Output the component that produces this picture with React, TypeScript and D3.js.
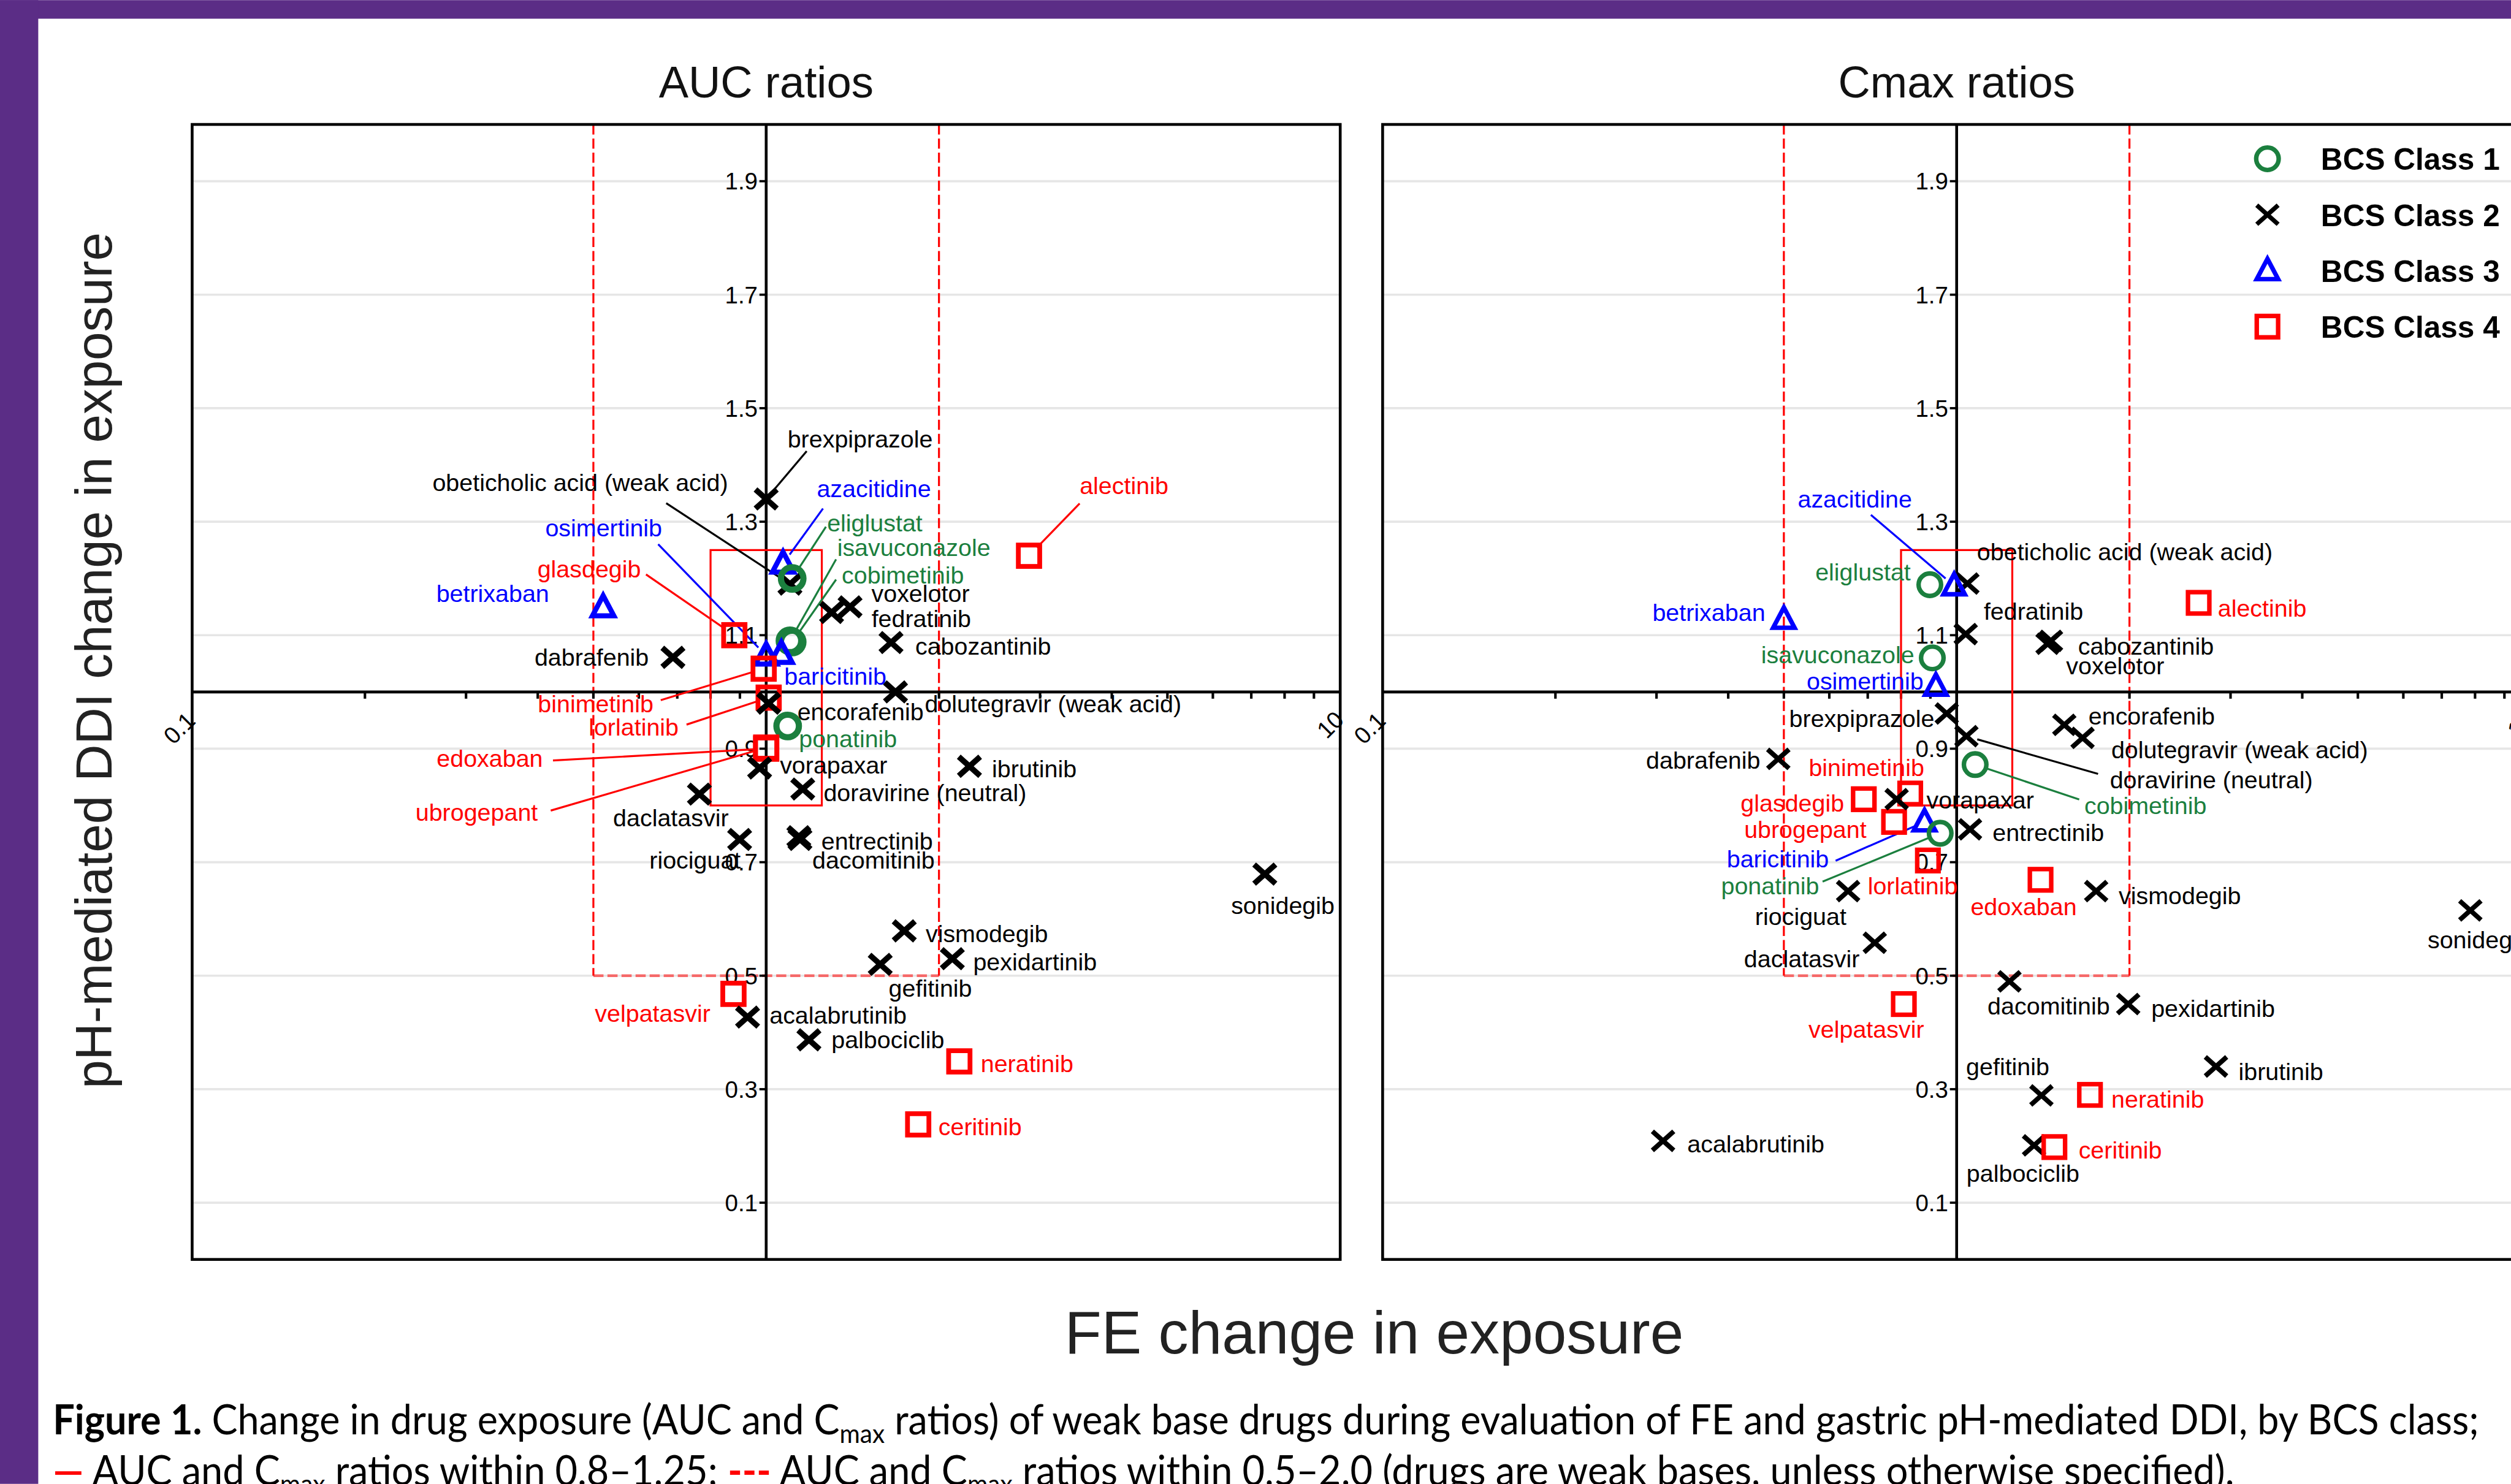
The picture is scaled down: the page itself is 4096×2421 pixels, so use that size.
import * as d3 from 'd3';

// drugs and their BCS class (1..4)
const drugs = [
  'brexpiprazole', 'obeticholic acid (weak acid)', 'azacitidine', 'eliglustat', 'isavuconazole',
  'cobimetinib', 'voxelotor', 'fedratinib', 'cabozantinib', 'dolutegravir (weak acid)',
  'alectinib', 'osimertinib', 'glasdegib', 'betrixaban', 'dabrafenib',
  'baricitinib', 'binimetinib', 'lorlatinib', 'encorafenib', 'ponatinib',
  'edoxaban', 'ubrogepant', 'vorapaxar', 'doravirine (neutral)', 'ibrutinib',
  'daclatasvir', 'riociguat', 'entrectinib', 'dacomitinib', 'sonidegib',
  'vismodegib', 'gefitinib', 'pexidartinib', 'velpatasvir', 'acalabrutinib',
  'palbociclib', 'neratinib', 'ceritinib',
];
const bcsClass = [
  2, 2, 3, 1, 1,
  1, 2, 2, 2, 2,
  4, 3, 4, 3, 2,
  3, 4, 4, 2, 1,
  4, 4, 2, 2, 2,
  2, 2, 2, 2, 2,
  2, 2, 2, 4, 2,
  2, 4, 4,
];

// AUC ratios: FE (x) and pH-mediated DDI (y)
const aucFE = [
  1.0, 1.1, 1.07, 1.11, 1.1,
  1.11, 1.4, 1.3, 1.65, 1.68,
  2.87, 1.0, 0.88, 0.52, 0.688,
  1.063, 0.99, 1.01, 1.01, 1.09,
  1.0, 1.0, 0.974, 1.158, 2.26,
  0.765, 0.899, 1.145, 1.14, 7.39,
  1.74, 1.58, 2.11, 0.877, 0.928,
  1.187, 2.17, 1.84,
];
const aucPH = [
  1.34, 1.19, 1.226, 1.2, 1.09,
  1.088, 1.15, 1.14, 1.087, 1.0,
  1.24, 1.064, 1.1, 1.149, 1.061,
  1.067, 1.041, 0.99, 0.98, 0.94,
  0.9, 0.902, 0.866, 0.829, 0.869,
  0.82, 0.74, 0.74, 0.745, 0.679,
  0.579, 0.52, 0.53, 0.468, 0.427,
  0.387, 0.349, 0.238,
];

// Cmax ratios
const cmaxFE = [
  0.961, 1.044, 0.99, 0.898, 0.907,
  1.077, 1.44, 1.037, 1.46, 1.657,
  2.64, 0.92, 0.689, 0.5, 0.489,
  0.879, 0.83, 0.891, 1.54, 0.936,
  1.4, 0.778, 0.786, 1.04, 2.83,
  0.72, 0.647, 1.055, 1.236, 7.85,
  1.75, 1.405, 1.99, 0.809, 0.308,
  1.364, 1.707, 1.48,
];
const cmaxPH = [
  0.962, 1.191, 1.187, 1.189, 1.06,
  0.872, 1.085, 1.102, 1.09, 0.919,
  1.157, 1.01, 0.811, 1.128, 0.882,
  0.771, 0.821, 0.703, 0.942, 0.751,
  0.669, 0.771, 0.811, 0.922, 0.34,
  0.558, 0.649, 0.758, 0.49, 0.615,
  0.649, 0.289, 0.45, 0.45, 0.209,
  0.201, 0.29, 0.198,
];

const yTicks = [0.1, 0.3, 0.5, 0.7, 0.9, 1.1, 1.3, 1.5, 1.7, 1.9];
const xMinor = [0.2, 0.3, 0.4, 0.5, 0.6, 0.7, 0.8, 0.9, 2, 3, 4, 5, 6, 7, 8, 9];
const legendLabels = ['BCS Class 1', 'BCS Class 2', 'BCS Class 3', 'BCS Class 4'];

// label layout: anchor, dx, dy, optional leader start offset
type Lab = [string, number, number, number?, number?];
const aucLabels: Record<string, Lab> = {
  'brexpiprazole': ['start', 38, -92, 72, -85],
  'obeticholic acid (weak acid)': ['end', -110, -166, -220, -144],
  'azacitidine': ['start', 60, -118, 71, -98],
  'eliglustat': ['start', 62, -84, 60, -92],
  'isavuconazole': ['start', 84, -151, 82, -145],
  'cobimetinib': ['start', 88, -104, 78, -111],
  'voxelotor': ['start', 38, -9],
  'fedratinib': ['start', 71, 26],
  'cabozantinib': ['start', 43, 22],
  'dolutegravir (weak acid)': ['start', 52, 36],
  'alectinib': ['start', 90, -110, 90, -93],
  'osimertinib': ['end', -185, -212, -192, -198],
  'glasdegib': ['end', -166, -103, -157, -108],
  'betrixaban': ['end', -96, -10],
  'dabrafenib': ['end', -43, 15],
  'baricitinib': ['start', 5, 55],
  'binimetinib': ['end', -196, 78, -183, 56],
  'lorlatinib': ['end', -160, 68, -146, 48],
  'encorafenib': ['start', 51, 30],
  'ponatinib': ['start', 20, 38],
  'edoxaban': ['end', -397, 32, -379, 21],
  'ubrogepant': ['end', -406, 130, -383, 112],
  'vorapaxar': ['start', 36, 10],
  'doravirine (neutral)': ['start', 37, 22],
  'ibrutinib': ['start', 40, 19],
  'daclatasvir': ['end', 52, 57],
  'riociguat': ['end', 2, 52],
  'entrectinib': ['start', 38, 18],
  'dacomitinib': ['start', 24, 57],
  'sonidegib': ['middle', 32, 71],
  'vismodegib': ['start', 38, 20],
  'gefitinib': ['start', 15, 57],
  'pexidartinib': ['start', 37, 21],
  'velpatasvir': ['end', -41, 50],
  'acalabrutinib': ['start', 39, 12],
  'palbociclib': ['start', 40, 15],
  'neratinib': ['start', 38, 19],
  'ceritinib': ['start', 36, 19],
};
const cmaxLabels: Record<string, Lab> = {
  'azacitidine': ['end', -75, -139, -148, -126],
  'eliglustat': ['end', -34, -7],
  'obeticholic acid (weak acid)': ['start', 17, -41],
  'fedratinib': ['start', 32, -26],
  'cabozantinib': ['start', 48, 25],
  'voxelotor': ['start', 33, 54],
  'alectinib': ['start', 34, 24],
  'betrixaban': ['end', -33, 3],
  'isavuconazole': ['end', -32, 10],
  'osimertinib': ['end', -22, 6],
  'brexpiprazole': ['end', -22, 24],
  'encorafenib': ['start', 43, -1],
  'dolutegravir (weak acid)': ['start', 51, 36],
  'doravirine (neutral)': ['start', 255, 93, 234, 67],
  'cobimetinib': ['start', 194, 88, 185, 62],
  'dabrafenib': ['end', -32, 17],
  'binimetinib': ['end', 25, -31],
  'vorapaxar': ['start', 53, 17],
  'glasdegib': ['end', -35, 22],
  'ubrogepant': ['end', -49, 28],
  'baricitinib': ['end', -170, 81, -158, 69],
  'ponatinib': ['end', -215, 109, -209, 86],
  'entrectinib': ['start', 40, 21],
  'lorlatinib': ['start', -107, 60],
  'edoxaban': ['middle', -30, 63],
  'vismodegib': ['start', 40, 23],
  'riociguat': ['end', -3, 60],
  'daclatasvir': ['end', -27, 43],
  'dacomitinib': ['start', -39, 59],
  'pexidartinib': ['start', 41, 23],
  'velpatasvir': ['end', 36, 60],
  'ibrutinib': ['start', 40, 24],
  'gefitinib': ['start', -134, -36],
  'neratinib': ['start', 38, 23],
  'palbociclib': ['start', -120, 65],
  'ceritinib': ['start', 43, 20],
  'acalabrutinib': ['start', 43, 21],
  'sonidegib': ['start', -76, 67],
};

const W = 4464;
const H = 2638;
const FONT = '"Liberation Sans", Arial, sans-serif';
const colors = ['#1b7f3e', '#000000', '#0000ff', '#ff0000'];
const PANEL_W = 2041;
const TOP = 221;
const BOTTOM = 2239;

// stroke widths per class: circle, x, triangle, square
function Marker({ cls, x, y, sw }: { cls: number; x: number; y: number; sw: number[] }) {
  const c = colors[cls - 1];
  const w = sw[cls - 1];
  if (cls === 1) return <circle cx={x} cy={y} r={20} fill="none" stroke={c} strokeWidth={w} />;
  if (cls === 2)
    return (
      <path
        d={`M${x - 19},${y - 17}L${x + 19},${y + 17}M${x - 19},${y + 17}L${x + 19},${y - 17}`}
        stroke={c}
        strokeWidth={w}
        fill="none"
      />
    );
  if (cls === 3)
    return (
      <path
        d={`M${x},${y - 21}L${x + 19},${y + 15}L${x - 19},${y + 15}Z`}
        stroke={c}
        strokeWidth={w}
        fill="none"
        strokeLinejoin="miter"
      />
    );
  return <rect x={x - 19} y={y - 19} width={38} height={38} stroke={c} strokeWidth={w} fill="none" />;
}

function Panel({ left, title, fe, ph, labels, sw }: any) {
  const x = d3.scaleLog().domain([0.1, 10]).range([left, left + PANEL_W]);
  const y = d3.scaleLinear().domain([0, 2]).range([BOTTOM, TOP]);
  const x1 = x(1);
  const y1 = y(1);

  return (
    <g>
      <text x={x1} y={173} textAnchor="middle" fontFamily={FONT} fontSize={79} fill="#111">
        {title}
      </text>
      {/* grid */}
      {yTicks.map((t) => (
        <line key={t} x1={left} x2={left + PANEL_W} y1={y(t)} y2={y(t)} stroke="#e6e6e6" strokeWidth={4} />
      ))}
      {/* 0.5 - 2 dashed region */}
      <g stroke="#ff0000" strokeWidth={3.5} strokeDasharray="18 7" fill="none">
        <line x1={x(0.5)} x2={x(0.5)} y1={TOP} y2={y(0.5)} />
        <line x1={x(2)} x2={x(2)} y1={TOP} y2={y(0.5)} />
        <line x1={x(0.5)} x2={x(2)} y1={y(0.5)} y2={y(0.5)} strokeOpacity={0.55} strokeWidth={5} />
      </g>
      {/* axes through 1 */}
      <line x1={left} x2={left + PANEL_W} y1={y1} y2={y1} stroke="#000" strokeWidth={5} />
      <line x1={x1} x2={x1} y1={TOP} y2={BOTTOM} stroke="#000" strokeWidth={5} />
      {xMinor.map((t) => (
        <line key={t} x1={x(t)} x2={x(t)} y1={y1} y2={y1 + 12} stroke="#000" strokeWidth={4.5} />
      ))}
      {yTicks.map((t) => (
        <g key={t}>
          <line x1={x1 - 12} x2={x1} y1={y(t)} y2={y(t)} stroke="#000" strokeWidth={4} />
          <text x={x1 - 15} y={y(t)} dy="0.36em" textAnchor="end" fontFamily={FONT} fontSize={42} fill="#000">
            {t.toFixed(1)}
          </text>
        </g>
      ))}
      <text
        transform={`translate(${x(0.1) + 8},${y1 + 54}) rotate(-45)`}
        textAnchor="end"
        fontFamily={FONT}
        fontSize={42}
      >
        0.1
      </text>
      <text
        transform={`translate(${x(10) + 9},${y1 + 52}) rotate(-45)`}
        textAnchor="end"
        fontFamily={FONT}
        fontSize={42}
      >
        10
      </text>
      {/* 0.8 - 1.25 box */}
      <rect
        x={x(0.8)}
        y={y(1.25)}
        width={x(1.25) - x(0.8)}
        height={y(0.8) - y(1.25)}
        fill="none"
        stroke="#ff0000"
        strokeWidth={3.5}
      />
      {/* leaders */}
      {drugs.map((d, i) => {
        const l = labels[d];
        if (!l || l[3] === undefined) return null;
        const px = x(fe[i]);
        const py = y(ph[i]);
        const sx = px + (l[3] as number);
        const sy = py + (l[4] as number);
        const len = Math.hypot(sx - px, sy - py);
        const ex = px + ((sx - px) / len) * 20;
        const ey = py + ((sy - py) / len) * 20;
        return (
          <line key={d} x1={sx} y1={sy} x2={ex} y2={ey} stroke={colors[bcsClass[i] - 1]} strokeWidth={3.5} />
        );
      })}
      {drugs.map((d, i) => (
        <Marker key={d} cls={bcsClass[i]} x={x(fe[i])} y={y(ph[i])} sw={sw} />
      ))}
      {drugs.map((d, i) => {
        const l = labels[d];
        return (
          <text
            key={d}
            x={x(fe[i]) + l[1]}
            y={y(ph[i]) + l[2]}
            textAnchor={l[0]}
            fontFamily={FONT}
            fontSize={43}
            fill={colors[bcsClass[i] - 1]}
          >
            {d}
          </text>
        );
      })}
      <rect x={left} y={TOP} width={PANEL_W} height={BOTTOM - TOP} fill="none" stroke="#000" strokeWidth={5} />
    </g>
  );
}

export default function App() {
  const capFont = 'Lato, "Open Sans", sans-serif';
  return (
    <svg
      viewBox={`0 0 ${W} ${H}`}
      width={4096}
      height={2421}
      style={{ position: 'absolute', left: 0, top: 0, background: '#fff' }}
    >
      <rect width={W} height={H} fill="#fff" />
      <Panel left={341.6} title="AUC ratios" fe={aucFE} ph={aucPH} labels={aucLabels} sw={[11, 10, 9, 8.5]} />
      <Panel left={2458} title="Cmax ratios" fe={cmaxFE} ph={cmaxPH} labels={cmaxLabels} sw={[8, 8.5, 8, 8]} />

      {/* legend */}
      {legendLabels.map((lab, i) => (
        <g key={lab}>
          <Marker cls={i + 1} x={4031} y={282 + i * 99.5} sw={[8, 8, 8, 8]} />
          <text x={4126} y={282 + i * 99.5 + 20} fontFamily={FONT} fontWeight="bold" fontSize={54} fill="#000">
            {lab}
          </text>
        </g>
      ))}

      <text
        transform="translate(198,1174) rotate(-90)"
        textAnchor="middle"
        fontFamily={FONT}
        fontSize={91}
        fill="#222"
      >
        pH-mediated DDI change in exposure
      </text>
      <text x={2443} y={2406} textAnchor="middle" fontFamily={FONT} fontSize={107} fill="#222">
        FE change in exposure
      </text>

      {/* caption */}
      <text x={94} y={2550} fontFamily={capFont} fontSize={73} fill="#000" textLength={4313} lengthAdjust="spacingAndGlyphs">
        <tspan fontWeight="bold">Figure 1.</tspan>
        {' Change in drug exposure (AUC and C'}
        <tspan fontSize={47} dy={15}>max</tspan>
        <tspan dy={-15}>{' ratios) of weak base drugs during evaluation of FE and gastric pH-mediated DDI, by BCS class;'}</tspan>
      </text>
      <text x={94} y={2640} fontFamily={capFont} fontSize={73} fill="#000" textLength={3878} lengthAdjust="spacingAndGlyphs">
        <tspan fill="#ff0000" fontWeight="bold">—</tspan>
        {' AUC and C'}
        <tspan fontSize={47} dy={15}>max</tspan>
        <tspan dy={-15}>{' ratios within 0.8–1.25; '}</tspan>
        <tspan fill="#ff0000" fontWeight="bold">---</tspan>
        {' AUC and C'}
        <tspan fontSize={47} dy={15}>max</tspan>
        <tspan dy={-15}>{' ratios within 0.5–2.0 (drugs are weak bases, unless otherwise specified).'}</tspan>
      </text>

      {/* purple page border */}
      <rect x={0} y={0} width={W} height={33} fill="#5b2d86" />
      <rect x={0} y={0} width={68} height={H} fill="#5b2d86" />
    </svg>
  );
}
